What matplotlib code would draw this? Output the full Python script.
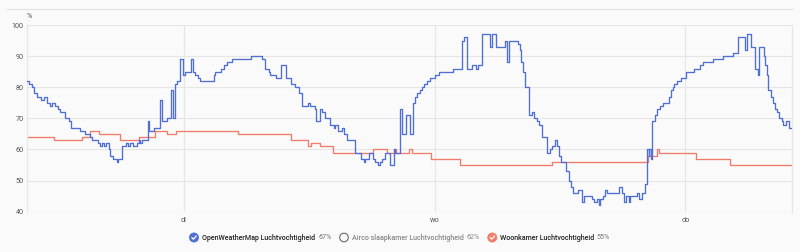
import matplotlib
matplotlib.use("Agg")
import matplotlib.pyplot as plt
from matplotlib.patches import Circle
import numpy as np

plt.rcParams['font.family'] = ['Roboto', 'DejaVu Sans']

# hours relative to Tuesday 00:00
owm_t = [-15.0, -14.78, -14.52, -14.37, -14.05, -13.63, -13.41, -13.06, -12.80, -12.61,
         -12.29, -12.07, -11.82, -11.34, -11.02, -10.79, -9.90, -9.42, -8.94, -8.78,
         -8.21, -8.02, -7.80, -7.67, -7.41, -7.19, -7.03, -6.81, -6.39, -6.27,
         -5.91, -5.50, -5.31, -5.12, -4.83, -4.45, -4.29, -4.16, -4.00, -3.43,
         -3.30, -2.82, -2.32, -2.09, -1.61, -1.22, -1.07, -0.81, -0.65, -0.40,
         -0.11, 0.14, 0.69, 0.88, 1.10, 1.32, 1.51, 2.85, 3.01, 3.56,
         3.81, 4.13, 4.61, 6.43, 7.48, 7.80, 8.11, 8.28, 8.85, 9.33,
         9.78, 10.29, 10.60, 10.98, 11.31, 11.88, 12.10, 12.51, 12.65, 13.06,
         13.22, 13.47, 14.02, 14.33, 14.49, 14.75, 15.14, 15.38, 15.61, 16.41,
         16.98, 17.20, 17.37, 17.68, 18.06, 18.32, 18.58, 18.80, 18.96, 19.28,
         19.76, 20.07, 20.24, 20.71, 20.88, 21.29, 21.60, 21.93, 22.15, 22.31,
         22.56, 22.79, 23.01, 23.27, 23.58, 24.06, 24.47, 25.76, 26.62, 26.77,
         27.10, 27.57, 27.99, 28.11, 28.53, 29.26, 29.49, 29.90, 30.76, 30.92,
         31.08, 31.94, 32.13, 32.26, 32.45, 32.67, 33.08, 33.31, 33.56, 33.79,
         33.95, 34.27, 34.75, 35.07, 35.23, 35.54, 35.71, 35.86, 36.12, 36.57,
         36.88, 37.07, 37.29, 37.77, 38.10, 38.25, 39.05, 39.30, 39.53, 39.69,
         39.85, 40.07, 40.26, 40.49, 41.60, 41.92, 42.08, 42.31, 42.56, 42.72,
         43.36, 43.58, 43.89, 44.09, 44.37, 44.47, 44.56, 44.70, 44.80, 45.11,
         45.27, 45.59, 45.81, 46.45, 46.61, 46.80, 46.93, 47.19, 47.57, 48.08,
         48.78, 49.42, 49.68, 50.63, 51.59, 52.54, 53.08, 53.72, 53.88, 54.27,
         54.68, 54.90, 55.09, 55.48, 55.57, 55.80, 55.95, 56.18, 56.37, 56.59,
         56.75, 57.00, 57.23, 57.38, 57.64, 57.96, 58.2]
owm_v = [82, 81, 80, 78, 77, 76, 77, 75, 74, 75,
         74, 73, 72, 70, 69, 67, 66, 65, 64, 63,
         62, 61, 62, 61, 62, 60, 58, 57, 56, 57,
         61, 62, 61, 62, 61, 62, 63, 62, 63, 69,
         66, 67, 76, 69, 70, 79, 70, 81, 82, 89,
         84, 85, 89, 85, 84, 83, 82, 84, 85, 86,
         87, 88, 89, 90, 89, 86, 85, 84, 83, 87,
         83, 81, 80, 78, 74, 75, 74, 73, 69, 73,
         72, 70, 68, 67, 68, 66, 67, 65, 63, 59,
         57, 56, 57, 59, 57, 56, 55, 56, 57, 59,
         55, 60, 59, 73, 65, 71, 65, 75, 77, 78,
         79, 80, 81, 82, 83, 84, 85, 86, 95, 96,
         86, 87, 86, 87, 97, 93, 97, 93, 95, 88,
         95, 94, 92, 88, 85, 80, 71, 72, 70, 69,
         68, 64, 59, 60, 61, 63, 61, 58, 56, 53,
         50, 48, 46, 47, 43, 45, 44, 43, 44, 42,
         44, 45, 47, 46, 48, 46, 43, 45, 43, 45,
         46, 44, 46, 49, 60, 58, 60, 57, 69, 71,
         73, 74, 75, 77, 79, 80, 81, 82, 83, 85,
         86, 87, 88, 89, 90, 91, 96, 92, 97, 93,
         86, 84, 93, 90, 87, 84, 79, 77, 75, 73,
         72, 70, 69, 68, 69, 67, 67]

woon_t = [-15.0, -12.46, -9.74, -8.95, -8.15, -6.08, -4.32, -2.77, -1.61, -0.72,
          5.15, 10.29, 11.88, 12.20, 13.06, 14.24, 18.06, 19.44, 20.14, 20.30,
          21.55, 21.86, 23.68, 26.39, 35.23, 44.39, 45.30, 45.43, 49.06, 52.29, 58.2]
woon_v = [64, 63, 64, 66, 65, 63, 64, 66, 65, 66,
          65, 63, 61, 62, 61, 59, 60, 59, 60, 59,
          60, 59, 57, 55, 56, 58, 60, 59, 57, 55, 55]

day_ticks = [0, 24, 48]
day_labels = ['di', 'wo', 'do']
y_ticks = [40, 50, 60, 70, 80, 90, 100]

legend_names = ['OpenWeatherMap Luchtvochtigheid', 'Airco slaapkamer Luchtvochtigheid',
                'Woonkamer Luchtvochtigheid']
legend_values = ['67%', '62%', '55%']

BLUE = '#4f6fd6'
RED = '#f27c69'
BG = '#fafafa'
GRID = '#e6e6e6'
TXT = '#555555'

W, H = 800, 252
fig = plt.figure(figsize=(W / 100, H / 100), dpi=100, facecolor=BG)
ax = fig.add_axes([27 / W, 1 - 211.7 / H, (792 - 27) / W, (211.7 - 25) / H])
ax.set_facecolor(BG)

ax.step(owm_t, owm_v, where='post', color=BLUE, lw=0.95, zorder=3)
ax.step(woon_t, woon_v, where='post', color=RED, lw=0.95, zorder=2)

ax.set_xlim(-15.0, 58.2)
ax.set_ylim(40, 100)
ax.set_yticks(y_ticks)
ax.set_xticks(day_ticks)
ax.set_xticklabels(day_labels)
ax.tick_params(axis='both', length=0, labelsize=5.2, colors=TXT)
ax.tick_params(axis='y', pad=2.5)
ax.tick_params(axis='x', pad=4)
ax.grid(True, color=GRID, lw=0.8, zorder=0)
for s in ['top', 'bottom']:
    ax.spines[s].set_visible(False)
for s in ['left', 'right']:
    ax.spines[s].set_color(GRID)
    ax.spines[s].set_linewidth(0.8)
ax.text(0.0, 1.025, '%', transform=ax.transAxes, fontsize=5.2, color=TXT,
        ha='left', va='bottom')

# overlay for header line and legend (pixel coordinates)
ov = fig.add_axes([0, 0, 1, 1], facecolor='none')
ov.set_xlim(0, W)
ov.set_ylim(H, 0)
ov.axis('off')
ov.plot([7, 793], [9.3, 9.3], color='#e3e3e3', lw=0.9)

ly = 237.5
items = [(194, BLUE, True, 202.5), (344, '#777777', False, 352.5), (492.3, RED, True, 500)]
for i, (cx, col, checked, tx) in enumerate(items):
    if checked:
        ov.add_patch(Circle((cx, ly), 4.6, facecolor=col, edgecolor=col, lw=0.5))
        ov.plot([cx - 2.2, cx - 0.6, cx + 2.3], [ly + 0.1, ly + 1.7, ly - 1.6],
                color='white', lw=0.9, solid_capstyle='round')
        name_col = '#222222'
        val_col = '#777777'
    else:
        ov.add_patch(Circle((cx, ly), 4.3, facecolor='none', edgecolor='#666666', lw=0.8))
        name_col = '#888888'
        val_col = '#888888'
    t = ov.text(tx, ly, legend_names[i], fontsize=5.1, color=name_col, va='center',
                ha='left', fontweight='medium')
    fig.canvas.draw()
    bb = t.get_window_extent()
    x_end = bb.x1
    ov.text(x_end + 2.5, ly, legend_values[i], fontsize=5.1, color=val_col,
            va='center', ha='left')

fig.savefig('out.png', dpi=100, facecolor=BG)
